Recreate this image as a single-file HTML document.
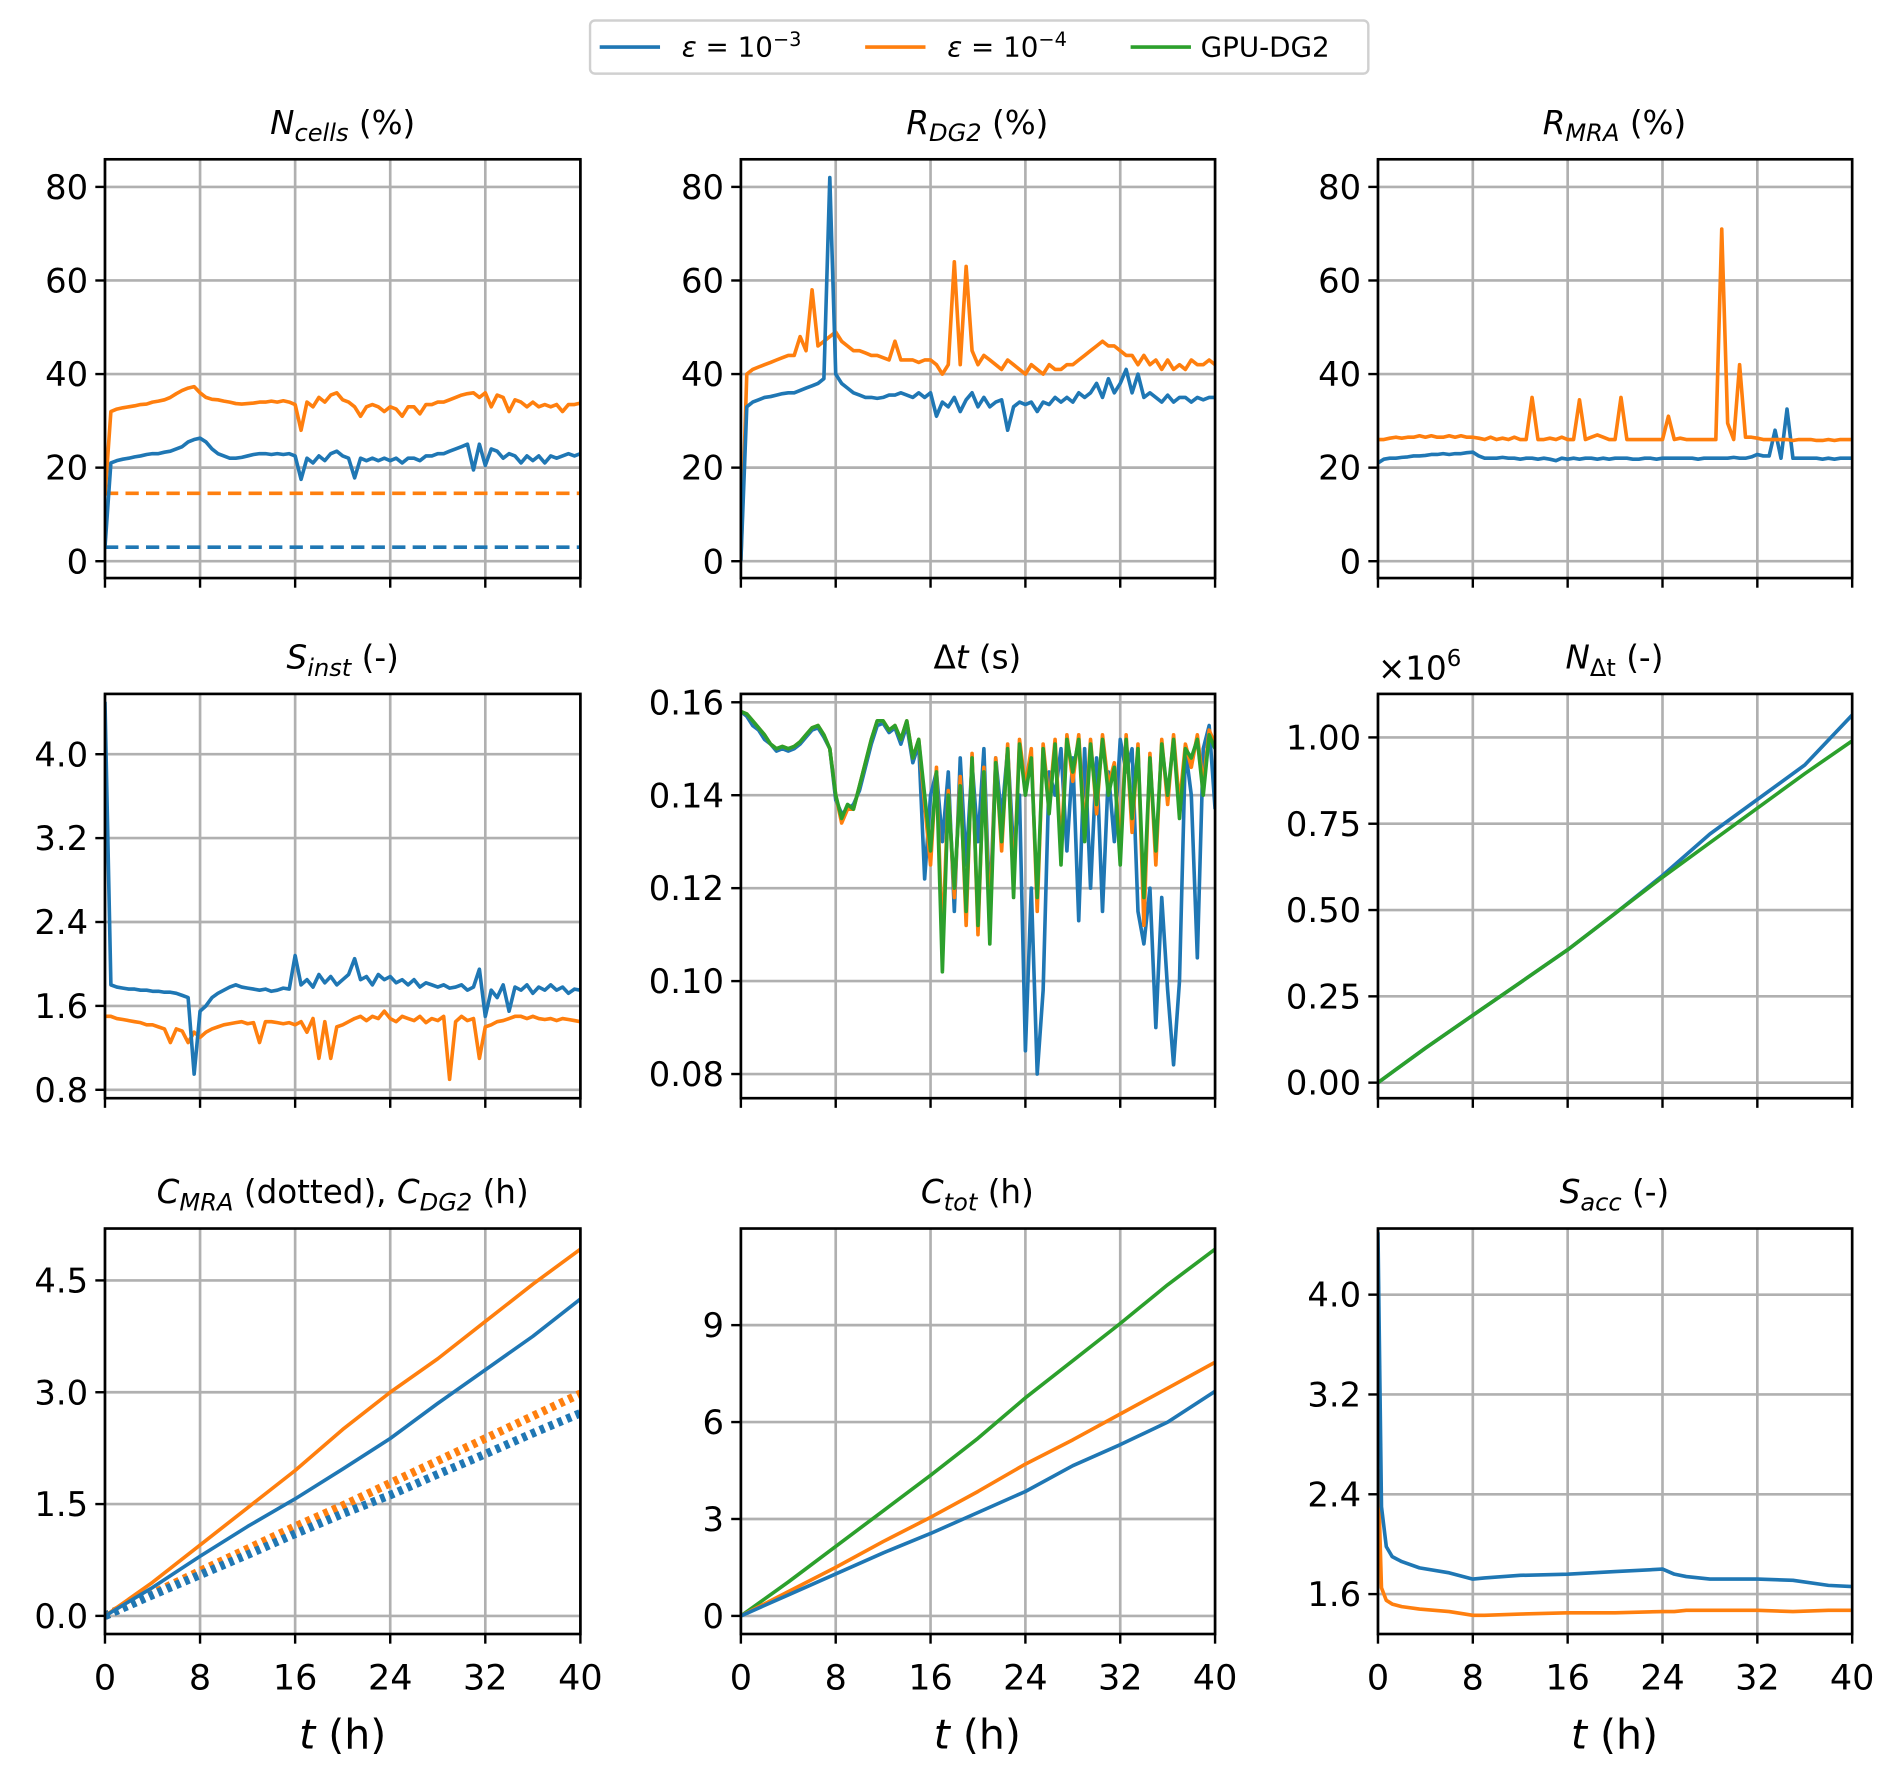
<!DOCTYPE html>
<html><head><meta charset="utf-8"><style>
html,body{margin:0;padding:0;background:#fff}
svg{display:block}
text{font-family:"DejaVu Sans","Liberation Sans",sans-serif;fill:#000}
</style></head><body>
<svg id="fig" width="1892" height="1774" viewBox="0 0 1568 1470" preserveAspectRatio="none" xmlns="http://www.w3.org/2000/svg">
<g>
<rect x="489" y="17" width="645" height="44" rx="4" fill="#fff" stroke="#d0d0d0" stroke-width="2"/>
<line x1="497" y1="39" x2="547" y2="39" stroke="#1f77b4" stroke-width="3"/>
<text x="565" y="47" font-size="23"><tspan font-style="italic">ε</tspan> = 10<tspan font-size="16" dy="-9">−3</tspan></text>
<line x1="717" y1="39" x2="767" y2="39" stroke="#ff7f0e" stroke-width="3"/>
<text x="785" y="47" font-size="23"><tspan font-style="italic">ε</tspan> = 10<tspan font-size="16" dy="-9">−4</tspan></text>
<line x1="937" y1="39" x2="987" y2="39" stroke="#2ca02c" stroke-width="3"/>
<text x="995" y="47" font-size="23">GPU-DG2</text>
</g>
<g font-size="27" text-anchor="middle">
<text x="284" y="111"><tspan font-style="italic">N</tspan><tspan font-style="italic" font-size="20" dy="6">cells</tspan><tspan dy="-6"> (%)</tspan></text>
<text x="810" y="111"><tspan font-style="italic">R</tspan><tspan font-style="italic" font-size="20" dy="6">DG2</tspan><tspan dy="-6"> (%)</tspan></text>
<text x="1338" y="111"><tspan font-style="italic">R</tspan><tspan font-style="italic" font-size="20" dy="6">MRA</tspan><tspan dy="-6"> (%)</tspan></text>
<text x="284" y="554"><tspan font-style="italic">S</tspan><tspan font-style="italic" font-size="20" dy="6">inst</tspan><tspan dy="-6"> (-)</tspan></text>
<text x="810" y="554">Δ<tspan font-style="italic">t</tspan> (s)</text>
<text x="1338" y="554"><tspan font-style="italic">N</tspan><tspan font-size="20" dy="6">Δt</tspan><tspan dy="-6"> (-)</tspan></text>
<text x="284" y="997"><tspan font-style="italic">C</tspan><tspan font-style="italic" font-size="20" dy="6">MRA</tspan><tspan dy="-6"> (dotted), </tspan><tspan font-style="italic">C</tspan><tspan font-style="italic" font-size="20" dy="6">DG2</tspan><tspan dy="-6"> (h)</tspan></text>
<text x="810" y="997"><tspan font-style="italic">C</tspan><tspan font-style="italic" font-size="20" dy="6">tot</tspan><tspan dy="-6"> (h)</tspan></text>
<text x="1338" y="997"><tspan font-style="italic">S</tspan><tspan font-style="italic" font-size="20" dy="6">acc</tspan><tspan dy="-6"> (-)</tspan></text>
<text x="1142" y="563" text-anchor="start">×10<tspan font-size="19" dy="-11">6</tspan></text>
</g>
<g font-size="34" text-anchor="middle">
<text x="284" y="1449"><tspan font-style="italic">t</tspan> (h)</text>
<text x="810" y="1449"><tspan font-style="italic">t</tspan> (h)</text>
<text x="1338" y="1449"><tspan font-style="italic">t</tspan> (h)</text>
</g>
</svg>
<script>
const xTicks=[0,8,16,24,32,40];
const ncellsOrange=[14,32,32.5,32.8,33,33.2,33.5,33.6,34,34.2,34.5,35,35.8,36.5,37,37.3,36,35,34.6,34.5,34.2,34,33.7,33.6,33.7,33.8,34,34,34.2,34,34.3,34,33.5,28,34,33,35,34,35.5,36,34.5,34,33,31,33,33.5,33,32,33,32.5,31,33,33,31.5,33.5,33.5,34,34,34.5,35,35.5,35.8,36,35,36,33,35.5,35,32,34.5,34,33,34,33,33.5,33,33.5,32,33.5,33.5,33.8];
const ncellsBlue=[3,21,21.5,21.8,22,22.3,22.5,22.8,23,23,23.3,23.5,24,24.5,25.5,26,26.3,25.5,24,23,22.5,22,22,22.2,22.5,22.8,23,23,22.8,23,22.8,23,22.5,17.5,22,21,22.5,21.5,23,23.5,22.5,22,17.8,22,21.5,22,21.5,22,21.5,22,21,22,22,21.5,22.5,22.5,23,23,23.5,24,24.5,25,19.5,25,20.5,24,23.5,22,23,22.5,21,22.5,21.5,22.5,21,22.5,22,22.5,23,22.5,23];
const ncellsOrangeDash=[14.5,14.5];
const ncellsBlueDash=[3,3];
const rdg2Blue=[0,33,34,34.5,35,35.2,35.5,35.8,36,36,36.5,37,37.5,38,39,82,40,38,37,36,35.5,35,35,34.8,35,35.5,35.5,36,35.5,35,36,35,36,31,34,33,35,32,34.5,36,33,35,33,34,34.5,28,33,34,33.5,34,32,34,33.5,35,34,35,34,36,35,36,38,35,39,36,38,41,36,40,35,36,35,34,35.5,34,35,35,34,35,34.5,35,35];
const rdg2Orange=[0,40,41,41.5,42,42.5,43,43.5,44,44,48,45,58,46,47,48,49,47,46,45,45,44.5,44,44,43.5,43,47,43,43,43,42.5,43,43,42,40,42,64,42,63,45,42,44,43,42,41,43,42,41,40,42,41,40,42,41,41,42,42,43,44,45,46,47,46,46,45,44,44,42,44,42,43,41,43,41,42,41,43,42,42,43,42];
const rmraOrange=[26,26,26.3,26.5,26.3,26.5,26.5,26.8,26.5,26.8,26.5,26.5,26.8,26.5,26.8,26.5,26.5,26.3,26,26.5,26,26.3,26,26.5,26,26,35,26,26,26.3,26,26.5,26,26,34.5,26,26.5,27,26.5,26,26,35,26,26,26,26,26,26,26,31,26,26.3,26,26,26,26,26,26,71,29.5,26,42,26.5,26.5,26.3,26,26,26,26,26,25.8,26,26,26,25.8,25.8,26,25.8,26,26,26];
const rmraBlue=[21,21.8,22,22,22.2,22.3,22.5,22.5,22.6,22.8,22.8,23,22.8,23,23,23.2,23.3,22.5,22,22,22,22.2,22,22,21.8,22,22,21.8,22,21.8,21.5,22,21.8,22,21.8,22,22,21.8,22,21.8,22,22,22,21.8,21.8,22,22,21.8,22,22,22,22,22,22,21.8,22,22,22,22,22,22.2,22,22,22.3,22.8,22.5,22.5,28,22,32.5,22,22,22,22,22,21.8,22,21.8,22,22,22];
const sinstBlue=[4.5,1.8,1.78,1.77,1.76,1.76,1.75,1.75,1.74,1.74,1.73,1.73,1.72,1.7,1.68,0.95,1.55,1.6,1.68,1.72,1.75,1.78,1.8,1.78,1.77,1.76,1.75,1.76,1.74,1.75,1.77,1.76,2.08,1.8,1.85,1.78,1.9,1.82,1.88,1.8,1.85,1.9,2.05,1.85,1.88,1.8,1.9,1.85,1.88,1.82,1.85,1.8,1.85,1.78,1.82,1.8,1.78,1.8,1.77,1.78,1.8,1.75,1.78,1.95,1.5,1.75,1.68,1.8,1.55,1.78,1.75,1.8,1.72,1.78,1.75,1.8,1.75,1.78,1.72,1.76,1.75];
const sinstOrange=[1.5,1.5,1.48,1.47,1.46,1.45,1.44,1.42,1.42,1.4,1.38,1.25,1.38,1.36,1.25,1.35,1.3,1.35,1.38,1.4,1.42,1.43,1.44,1.45,1.43,1.44,1.25,1.45,1.45,1.44,1.43,1.44,1.42,1.45,1.35,1.48,1.1,1.45,1.1,1.4,1.42,1.45,1.48,1.5,1.46,1.5,1.48,1.55,1.48,1.45,1.5,1.48,1.46,1.5,1.44,1.48,1.46,1.5,0.9,1.45,1.5,1.46,1.48,1.1,1.4,1.42,1.45,1.46,1.48,1.5,1.5,1.48,1.5,1.48,1.47,1.48,1.46,1.48,1.47,1.46,1.45];
const dtGreen=[.158,.1575,.156,.1545,.153,.151,.150,.1505,.150,.1505,.1515,.153,.1545,.155,.153,.150,.140,.135,.138,.137,.142,.147,.152,.156,.156,.154,.155,.152,.156,.148,.152,.140,.128,.145,.102,.14,.120,.142,.115,.148,.112,.145,.108,.147,.130,.150,.118,.151,.140,.148,.118,.150,.136,.151,.125,.152,.145,.152,.130,.151,.138,.152,.140,.146,.125,.152,.135,.150,.118,.148,.128,.151,.140,.152,.135,.150,.148,.152,.140,.153,.150];
const dtOrange=[.158,.1575,.156,.1545,.153,.151,.150,.1505,.150,.1505,.1515,.153,.1545,.155,.153,.150,.140,.134,.137,.137,.142,.147,.152,.156,.156,.154,.155,.152,.156,.148,.152,.138,.125,.146,.108,.141,.118,.144,.112,.149,.110,.146,.112,.148,.128,.151,.120,.152,.142,.150,.115,.151,.138,.152,.128,.153,.143,.153,.132,.152,.136,.153,.142,.147,.128,.153,.132,.151,.112,.149,.125,.152,.138,.153,.138,.151,.146,.153,.142,.154,.151];
const dtBlue=[.158,.157,.155,.154,.152,.151,.1495,.150,.1495,.150,.151,.1525,.154,.1545,.1525,.150,.139,.136,.137,.138,.141,.146,.151,.155,.1555,.1535,.1545,.151,.155,.147,.151,.122,.14,.145,.130,.145,.115,.148,.125,.147,.130,.15,.115,.148,.135,.150,.128,.140,.085,.120,.080,.098,.145,.140,.150,.128,.148,.113,.150,.120,.148,.115,.145,.13,.152,.145,.150,.115,.108,.12,.090,.118,.098,.082,.100,.150,.140,.105,.150,.155,.137];
const ndtGreen=[0,0.1,0.195,0.29,0.385,0.49,0.595,0.695,0.795,0.895,0.99];
const ndtBlue=[0,0.1,0.195,0.29,0.385,0.49,0.6,0.72,0.82,0.92,1.065];
const cdg2Orange=[0,.45,.95,1.45,1.95,2.5,3.0,3.45,3.95,4.45,4.92];
const cdg2Blue=[0,.38,.8,1.2,1.57,1.97,2.38,2.85,3.3,3.75,4.25];
const cmraOrange=[0,.3,.6,.9,1.2,1.48,1.78,2.08,2.38,2.68,2.98];
const cmraBlue=[0,.28,.55,.82,1.1,1.37,1.62,1.9,2.17,2.45,2.72];
const ctotGreen=[0,1.05,2.15,3.25,4.35,5.5,6.75,7.9,9.05,10.25,11.35];
const ctotOrange=[0,.75,1.5,2.3,3.05,3.85,4.7,5.45,6.25,7.05,7.85];
const ctotBlue=[0,.65,1.3,1.95,2.55,3.2,3.85,4.65,5.3,6.0,6.95];
const saccT=[0,0.3,0.7,1.2,2,3.5,6,8,9,12,16,20,24,25,26,28,32,35,38,40];
const saccBlue=[4.5,2.3,1.98,1.9,1.86,1.81,1.77,1.72,1.73,1.75,1.76,1.78,1.8,1.76,1.74,1.72,1.72,1.71,1.67,1.66];
const saccOrange=[2.6,1.65,1.55,1.52,1.5,1.48,1.46,1.43,1.43,1.44,1.45,1.45,1.46,1.46,1.47,1.47,1.47,1.46,1.47,1.47];

const NS="http://www.w3.org/2000/svg";
const svg=document.getElementById('fig');
const B="#1f77b4",O="#ff7f0e",G="#2ca02c";
const cols=[[87,481],[614,1007],[1142,1535]];
const rows=[[132,479],[575,910],[1018,1354]];
function mk(tag,attrs,parent){const e=document.createElementNS(NS,tag);for(const k in attrs)e.setAttribute(k,attrs[k]);(parent||svg).appendChild(e);return e;}
function panel(name,c,r,ylim,yticks,fmt,series,xlabels){
  const [x0,x1]=cols[c],[y0,y1]=rows[r];
  const g=mk('g',{});
  
  
  const sx=t=>x0+(t/40)*(x1-x0);
  const sy=v=>y1-(v-ylim[0])/(ylim[1]-ylim[0])*(y1-y0);
  xTicks.forEach(t=>{
    const X=sx(t);
    mk('line',{x1:X,y1:y0,x2:X,y2:y1,stroke:'#b0b0b0','stroke-width':2.2},g);
    mk('line',{x1:X,y1:y1,x2:X,y2:y1+8,stroke:'#000','stroke-width':2},g);
    if(xlabels){const tx=mk('text',{x:X,y:y1+46,'font-size':29,'text-anchor':'middle'},g);tx.textContent=t;
      
      }
  });
  yticks.forEach(v=>{
    const Y=sy(v);
    mk('line',{x1:x0,y1:Y,x2:x1,y2:Y,stroke:'#b0b0b0','stroke-width':2.2},g);
    mk('line',{x1:x0-8,y1:Y,x2:x0,y2:Y,stroke:'#000','stroke-width':2},g);
    const tx=mk('text',{x:x0-14,y:Y+10,'font-size':28,'text-anchor':'end'},g);tx.textContent=fmt(v);
    
    
  });
  const cp='cp'+name;
  const clip=mk('clipPath',{id:cp},g);mk('rect',{x:x0,y:y0,width:x1-x0,height:y1-y0},clip);
  series.forEach(s=>{
    const n=s.v.length;
    const pts=s.v.map((v,i)=>{const t=s.t?s.t[i]:i*40/(n-1);return sx(t).toFixed(1)+','+sy(v).toFixed(1);}).join(' ');
    const p=mk('polyline',{points:pts,fill:'none',stroke:s.c,'stroke-width':s.w||3,'stroke-linejoin':'round','clip-path':'url(#'+cp+')'},g);
    if(s.d)p.setAttribute('stroke-dasharray',s.d);
    
    
  });
  mk('rect',{x:x0,y:y0,width:x1-x0,height:y1-y0,fill:'none',stroke:'#000','stroke-width':2.2},g);
}
const f0=v=>String(v), f1=v=>v.toFixed(1), f2=v=>v.toFixed(2);
panel('ncells',0,0,[-3.6,85.9],[0,20,40,60,80],f0,[
 {v:ncellsOrangeDash,c:O,d:'11 6',n:'ncells-orange-dashed'},{v:ncellsBlueDash,c:B,d:'11 6',n:'ncells-blue-dashed'},
 {v:ncellsOrange,c:O,n:'ncells-orange'},{v:ncellsBlue,c:B,n:'ncells-blue'}]);
panel('rdg2',1,0,[-3.6,85.9],[0,20,40,60,80],f0,[{v:rdg2Orange,c:O,n:'rdg2-orange'},{v:rdg2Blue,c:B,n:'rdg2-blue'}]);
panel('rmra',2,0,[-3.6,85.9],[0,20,40,60,80],f0,[{v:rmraBlue,c:B,n:'rmra-blue'},{v:rmraOrange,c:O,n:'rmra-orange'}]);
panel('sinst',0,1,[0.72,4.575],[0.8,1.6,2.4,3.2,4.0],f1,[{v:sinstOrange,c:O,n:'sinst-orange'},{v:sinstBlue,c:B,n:'sinst-blue'}]);
panel('dt',1,1,[0.0748,0.1618],[0.08,0.10,0.12,0.14,0.16],f2,[{v:dtBlue,c:B,n:'dt-blue'},{v:dtOrange,c:O,n:'dt-orange'},{v:dtGreen,c:G,n:'dt-green'}]);
panel('ndt',2,1,[-0.045,1.126],[0,0.25,0.5,0.75,1.0],f2,[{v:ndtBlue,c:B,n:'ndt-blue'},{v:ndtGreen,c:G,n:'ndt-green'}]);
panel('cost',0,2,[-0.243,5.196],[0,1.5,3.0,4.5],f1,[
 {v:cmraOrange,c:O,w:7,d:'4 4',n:'cmra-orange-dotted'},{v:cmraBlue,c:B,w:7,d:'4 4',n:'cmra-blue-dotted'},
 {v:cdg2Orange,c:O,n:'cdg2-orange'},{v:cdg2Blue,c:B,n:'cdg2-blue'}],true);
panel('ctot',1,2,[-0.56,11.99],[0,3,6,9],f0,[{v:ctotGreen,c:G,n:'ctot-green'},{v:ctotOrange,c:O,n:'ctot-orange'},{v:ctotBlue,c:B,n:'ctot-blue'}],true);
panel('sacc',2,2,[1.28,4.53],[1.6,2.4,3.2,4.0],f1,[{v:saccOrange,t:saccT,c:O,n:'sacc-orange'},{v:saccBlue,t:saccT,c:B,n:'sacc-blue'}],true);
</script>
</body></html>
